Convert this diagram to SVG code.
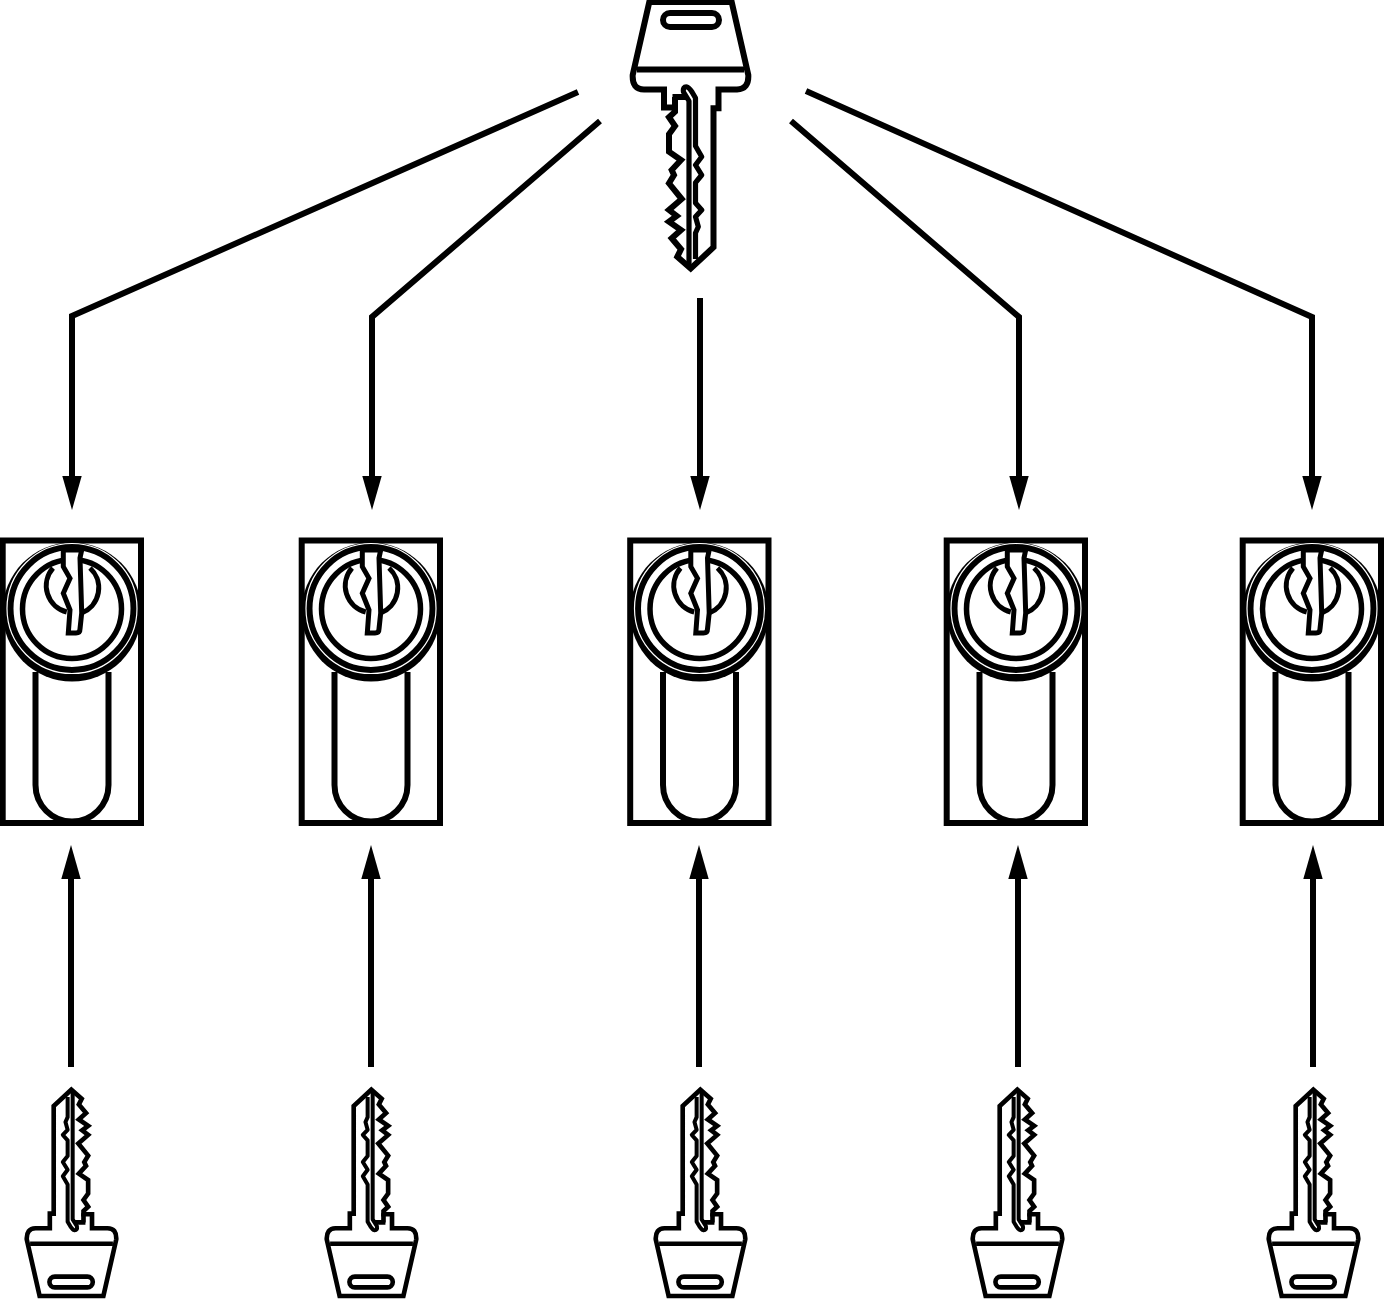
<svg xmlns="http://www.w3.org/2000/svg" width="1386" height="1299" viewBox="0 0 1386 1299">
<style>
.k{fill:none;stroke:#000;stroke-width:6;stroke-linejoin:miter}
.g{fill:none;stroke:#000;stroke-width:5.2;stroke-linejoin:round}
.l{fill:none;stroke:#000;stroke-width:6}
.h{fill:none;stroke:#fff;stroke-width:1.2}
.c{fill:none;stroke:#000;stroke-width:6;stroke-linejoin:miter}
</style>
<defs>
<marker id="arrow" markerUnits="userSpaceOnUse" markerWidth="36" markerHeight="20" refX="4" refY="10" orient="auto" viewBox="0 0 36 20"><path d="M0,0.300 L34,10 L0,19.700 Z" fill="#000"/></marker>
<g id="key">
<path class="k" d="M649.300,2 L632.700,75 Q632,89.500 644,89.500 H664 V107.500 H675 V111.700 L669,117.300 L675,126 L669,134.300 V151.700 L681,160 L671.700,170 L674,175 L669,183.300 L681.700,199 L669,210 L676.700,216 L669,221.700 L681,230 L671.700,238.300 L681,249.300 L677.300,256.700 L690.700,268.500 L713.500,247.300 V108.300 H718.500 V89.500 H737 Q749,89 748.300,75 L731.700,2 Z"/>
<path class="k" d="M637,69.500 H744"/>
<rect class="k" x="663" y="13" width="56" height="14" rx="7"/>
<path class="k" d="M672.500,97 H686 M675,97 V109"/>
<path class="g" d="M689,265 V101 L683.500,92 Q682.500,86.500 687,87 Q689,87.500 692,92 L695.500,98 V146 L701.700,156.700 L695.500,165 L701.700,175 L695.500,182.700 V203 L701.700,210 L695.500,216.700 L698.300,226.700 L695.500,233 V259"/>
</g>
<g id="lock">
<path class="l" d="M35.500,672 V785 A36.500,36.500 0 0 0 108.500,785 V672"/>
<rect class="l" x="2.700" y="540.500" width="138.300" height="282.500"/>
<circle cx="72" cy="612" r="69.500" fill="#000"/>
<circle cx="72" cy="608.500" r="61.500" fill="#fff" stroke="#000" stroke-width="6"/>
<circle cx="72" cy="608.500" r="65" class="h"/>
<circle cx="72" cy="609" r="49.500" fill="none" stroke="#000" stroke-width="5.500"/>
<path fill="none" stroke="#000" stroke-width="5" d="M53,568 A27,27 0 0 0 66.700,612 M81.700,613 A27,27 0 0 0 90,568"/>
<path d="M63.300,550 V566.700 L70,578.300 L63.300,593.300 L70,610 L68.300,633 H76 Q80,633 80,629 L81.700,613 L80,558 L81.700,550 Z" fill="#fff" stroke="#000" stroke-width="5"/>
</g>
</defs>
<rect width="1386" height="1299" fill="#fff"/>
<g id="connectors">
<path class="c" marker-end="url(#arrow)" d="M578,92 L72,316 V480"/>
<path class="c" marker-end="url(#arrow)" d="M600,121 L372,317 V480"/>
<path class="c" marker-end="url(#arrow)" d="M700,298 V480"/>
<path class="c" marker-end="url(#arrow)" d="M791,121 L1019,317 V480"/>
<path class="c" marker-end="url(#arrow)" d="M806,91 L1312,317 V480"/>
<path class="c" marker-end="url(#arrow)" d="M71,1067 V875"/>
<path class="c" marker-end="url(#arrow)" d="M371,1067 V875"/>
<path class="c" marker-end="url(#arrow)" d="M699,1067 V875"/>
<path class="c" marker-end="url(#arrow)" d="M1018,1067 V875"/>
<path class="c" marker-end="url(#arrow)" d="M1313,1067 V875"/>
</g>
<g id="master-key"><use href="#key"/></g>
<g id="lock-1"><use href="#lock"/></g>
<g id="lock-2"><use href="#lock" x="299"/></g>
<g id="lock-3"><use href="#lock" x="627.500"/></g>
<g id="lock-4"><use href="#lock" x="944"/></g>
<g id="lock-5"><use href="#lock" x="1240"/></g>
<g id="key-1"><use href="#key" transform="translate(71.500,1297.500) rotate(180) scale(.774) translate(-690.500,0)"/></g>
<g id="key-2"><use href="#key" transform="translate(371.500,1297.500) rotate(180) scale(.774) translate(-690.500,0)"/></g>
<g id="key-3"><use href="#key" transform="translate(700.500,1297.500) rotate(180) scale(.774) translate(-690.500,0)"/></g>
<g id="key-4"><use href="#key" transform="translate(1017.500,1297.500) rotate(180) scale(.774) translate(-690.500,0)"/></g>
<g id="key-5"><use href="#key" transform="translate(1313.500,1297.500) rotate(180) scale(.774) translate(-690.500,0)"/></g>
</svg>
